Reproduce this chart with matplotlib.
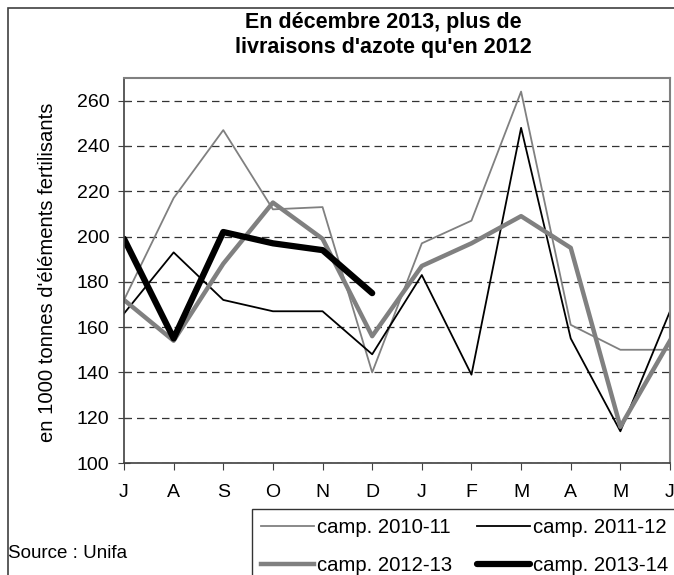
import numpy as np
import matplotlib.pyplot as plt
import matplotlib.patches as patches

plt.rcParams['font.family'] = ['Liberation Sans', 'DejaVu Sans']

# Months of the campaign (July -> June)
months = ['J', 'A', 'S', 'O', 'N', 'D', 'J', 'F', 'M', 'A', 'M', 'J']

# Deliveries, in 1000 tonnes of fertilising elements
camp_2010_11 = [172, 217, 247, 212, 213, 140, 197, 207, 264, 161, 150, 150]
camp_2011_12 = [166, 193, 172, 167, 167, 148, 183, 139, 248, 155, 114, 167]
camp_2012_13 = [172, 154, 188, 215, 199, 156, 187, 197, 209, 195, 116, 154]
camp_2013_14 = [199, 155, 202, 197, 194, 175]

fig = plt.figure(figsize=(6.74, 5.75), dpi=100)
ax = fig.add_axes([124 / 674, 112 / 575, 546 / 674, 385 / 575])

x = np.arange(len(months))
l1, = ax.plot(x, camp_2010_11, color='#808080', lw=1.3, label='camp. 2010-11')
l2, = ax.plot(x, camp_2011_12, color='black', lw=1.3, label='camp. 2011-12')
l3, = ax.plot(x, camp_2012_13, color='#808080', lw=3.2, label='camp. 2012-13')
l4, = ax.plot(x[:len(camp_2013_14)], camp_2013_14, color='black', lw=4.5,
              solid_capstyle='round', solid_joinstyle='round', label='camp. 2013-14')

ax.set_xlim(0, 11)
ax.set_ylim(100, 270)
ax.set_yticks(range(100, 261, 20))
ax.set_xticks(x)
ax.set_xticklabels(months)
ax.tick_params(axis='both', labelsize=14, color='#404040')
ax.tick_params(axis='y', direction='inout', length=9, pad=6)
ax.tick_params(axis='x', direction='out', length=5, pad=10)

# dashed horizontal gridlines
ax.yaxis.grid(True, color='#333333', lw=0.9, linestyle=(0, (6, 4)))
ax.set_axisbelow(True)

for s in ['top', 'right']:
    ax.spines[s].set_color('#808080')
    ax.spines[s].set_linewidth(1.5)
for s in ['left', 'bottom']:
    ax.spines[s].set_color('#404040')
    ax.spines[s].set_linewidth(1.2)

ax.set_ylabel("en 1000 tonnes d'éléments fertilisants", fontsize=14.6)
ax.yaxis.set_label_coords(-0.123, 0.494)

fig.text(383 / 674, 1 - 35 / 575, "En décembre 2013, plus de\nlivraisons d'azote qu'en 2012",
         ha='center', va='center', fontsize=15.5, fontweight='bold', linespacing=1.2)

fig.text(8 / 674, 1 - 553 / 575, 'Source : Unifa', ha='left', va='center', fontsize=13.5)

# Legend filled row by row, as in the original
leg = fig.legend([l1, l3, l2, l4], [l.get_label() for l in [l1, l3, l2, l4]],
                 loc='upper left', bbox_to_anchor=(252 / 674, 1 - 509 / 575), ncol=2,
                 fontsize=14.6, handlelength=2.6, handletextpad=0.15, columnspacing=1.25,
                 labelspacing=0.95, borderpad=0.45, borderaxespad=0, frameon=True,
                 fancybox=False, edgecolor='black')
leg.get_frame().set_linewidth(1.0)

# outer frame of the chart
fig.patches.append(patches.Rectangle((8 / 674, -0.01), 1.0, 1 - 8 / 575 + 0.01,
                                     transform=fig.transFigure, fill=False,
                                     edgecolor='#404040', lw=1.2))

fig.savefig('out.png', dpi=100)
